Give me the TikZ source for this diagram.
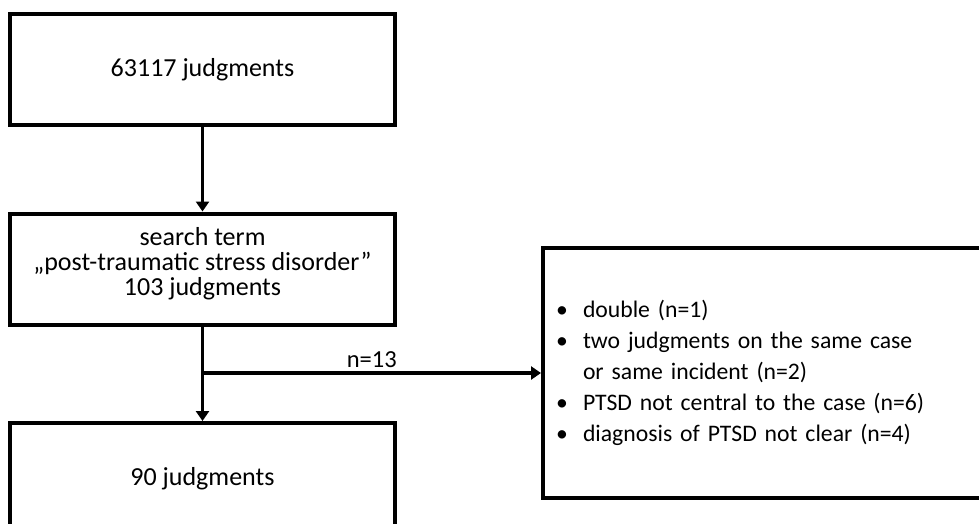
\documentclass[tikz,border=0pt]{standalone}
\usepackage{fontspec}
\setmainfont{Carlito}
\usetikzlibrary{arrows.meta}

\begin{document}
\begin{tikzpicture}[x=1pt, y=1pt,
    box/.style={rectangle, draw, line width=4pt, minimum width=385pt, minimum height=111pt, align=center, inner sep=0pt, font=\fontsize{26}{25}\selectfont},
    listbox/.style={rectangle, draw, line width=4pt, minimum width=442pt, minimum height=250pt, text width=416pt, inner xsep=12pt, align=left, font=\fontsize{23.7}{31}\selectfont},
    numlabel/.style={inner sep=0pt, font=\fontsize{24.5}{25}\selectfont},
    arrow/.style={-{Triangle[width=13pt,length=10pt]}, line width=3.5pt}
]
\path[use as bounding box, clip] (0,0) rectangle (979,-523);
\node[box] (all) at (202.5,-69.5) {63117 judgments};
\node[box] (search) at (202.5,-269) {search term\\„post-traumatic stress disorder”\\103 judgments\\[-10pt]};
\node[box] (final) at (202.5,-478.5) {90 judgments};
\node[listbox] (excl) at (764,-373) {%
  \begin{tabular}{@{}l@{}}
  \makebox[27pt][l]{•}double (n=1)\\
  \makebox[27pt][l]{•}two judgments on the same case\\
  \makebox[27pt][l]{}or same incident (n=2)\\
  \makebox[27pt][l]{•}PTSD not central to the case (n=6)\\
  \makebox[27pt][l]{•}diagnosis of PTSD not clear (n=4)
  \end{tabular}};
\coordinate (split) at (202.5,-373);
\draw[arrow] (all) -- (search);
\draw[line width=3.5pt] (search) -- (split);
\draw[arrow] (split) -- (final);
\draw[arrow] (split) -- node[numlabel, above, yshift=4pt] {n=13} (excl);
\end{tikzpicture}
\end{document}
